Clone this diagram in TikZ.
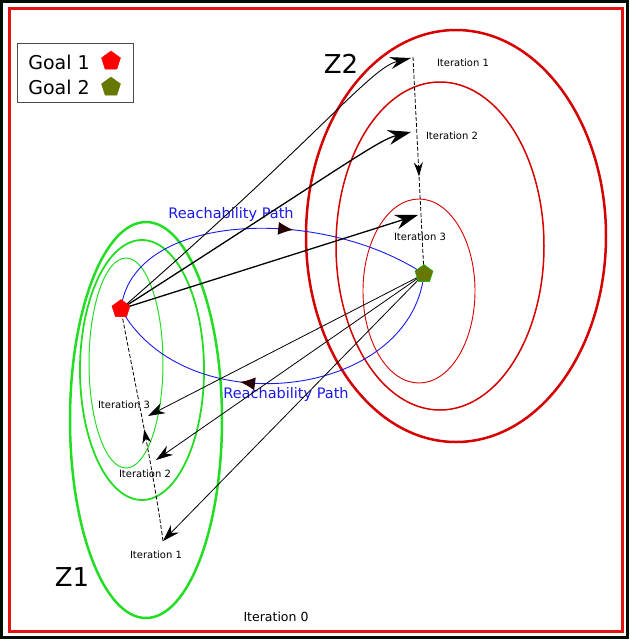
\documentclass[tikz,border=0pt]{standalone}
\usepackage{fontspec}
\setmainfont{DejaVu Sans}
\usetikzlibrary{positioning,shapes.geometric,arrows.meta,decorations.markings}
\definecolor{zonegreen}{RGB}{34,221,34}
\definecolor{zonered}{RGB}{214,0,0}
\definecolor{framered}{RGB}{226,20,20}
\definecolor{goalolive}{RGB}{102,120,0}
\definecolor{pathblue}{RGB}{25,25,235}
\tikzset{
  goal/.style    = {regular polygon, regular polygon sides=5, minimum size=19pt, inner sep=0pt},
  goal-1/.style  = {goal, fill=red, draw=red},
  goal-2/.style  = {goal, fill=goalolive, draw=green!75!black, thin},
  zone-1/.style  = {draw=zonegreen},
  zone-2/.style  = {draw=zonered},
  iter/.style    = {font=\fontsize{10}{12}\selectfont, inner sep=1pt},
  big/.style     = {font=\fontsize{26}{30}\selectfont, inner sep=0pt},
  reach/.style   = {draw=pathblue, line width=0.9pt, postaction={decorate},
                    decoration={markings, mark=at position #1 with {\arrow[black!85!red]{Latex[length=15pt,width=13pt]}}}},
  reach-label/.style = {text=pathblue, font=\fontsize{14.5}{16}\selectfont, inner sep=1pt},
  iter-path/.style   = {draw, line width=0.8pt, dash pattern=on 4pt off 2pt, postaction={decorate},
                    decoration={markings, mark=at position #1 with {\arrow{Stealth[length=14pt,width=9pt]}}}},
  to-z2/.style   = {draw, line width=1.3pt, -{Stealth[length=23pt,width=15pt]}},
  to-z1/.style   = {draw, line width=0.8pt, -{Stealth[length=17pt,width=11pt]}}
}

\begin{document}
\begin{tikzpicture}[x=1pt, y=-1pt]
  \useasboundingbox (0,0) rectangle (630,641);
  % frames
  \draw[black!95!green, line width=2.5pt] (1.5,1.5) rectangle (627.5,637.5);
  \draw[framered, line width=3pt] (9.5,8) rectangle (622.5,631.5);

  % zones
  \draw[zone-1, line width=2.5pt] (146,420) ellipse [x radius=76pt, y radius=198pt];
  \draw[zone-1, line width=1.8pt] (142,370) ellipse [x radius=62pt, y radius=130pt];
  \draw[zone-1, line width=1pt] (126,363) ellipse [x radius=37pt, y radius=105pt];
  \draw[zone-2, line width=2.5pt] (456,236) ellipse [x radius=150pt, y radius=206pt];
  \draw[zone-2, line width=1.5pt] (440,246) ellipse [x radius=104pt, y radius=164pt];
  \draw[zone-2, line width=0.9pt] (419,291) ellipse [x radius=56pt, y radius=92pt];

  \node[big] (z2) at (341,64) {Z2};
  \node[big] (z1) at (72,577) {Z1};

  \coordinate (g1) at (121,309);
  \coordinate (g2) at (424,274);
  \coordinate (z1-it1) at (163,541);
  \coordinate (z1-it2) at (156,460);
  \coordinate (z1-it3) at (148,416);
  \coordinate (z2-it1) at (411,58);
  \coordinate (z2-it2) at (411,132);
  \coordinate (z2-it3) at (418,215);

  % iterations
  \draw[iter-path=0.48] (z1-it1) .. controls (152,460) and (128,350) .. (g1);
  \draw[iter-path=0.55] (413,57) coordinate (z2-top) -- (g2);

  \node[iter] (z2-lab1) at (463,63) {Iteration 1};
  \node[iter] (z2-lab2) at (452,136) {Iteration 2};
  \node[iter] (z2-lab3) at (420,237) {Iteration 3};
  \node[iter] (z1-lab3) at (124,405) {Iteration 3};
  \node[iter] (z1-lab2) at (145,474) {Iteration 2};
  \node[iter] (z1-lab1) at (156,555) {Iteration 1};
  \node[iter, font=\fontsize{12.5}{14}\selectfont] (z0-lab) at (276,617) {Iteration 0};

  % reachability
  \path[reach=0.6] (g1) .. controls (132,212) and (320,205) .. (g2);
  \path[reach=0.62] (g2) .. controls (410,400) and (185,425) .. (g1);
  \node[reach-label] (reach-up) at (231,214) {Reachability Path};
  \node[reach-label] (reach-down) at (286,394) {Reachability Path};

  % goal 1 to zone 2
  \draw[to-z2, line width=0.9pt, -{Stealth[length=21pt,width=12pt]}] (g1) .. controls (321,135) and (370,68) .. (z2-it1);
  \draw[to-z2] (g1) .. controls (341,168) and (378,140) .. (z2-it2);
  \draw[to-z2] (g1) -- (z2-it3);

  % goal 2 to zone 1
  \draw[to-z1] (g2) -- (z1-it3);
  \draw[to-z1] (g2) -- (z1-it2);
  \draw[to-z1] (g2) -- (z1-it1);

  \node[goal-1] (goal1) at (g1) {};
  \node[goal-2] (goal2) at (g2) {};

  % legend
  \node[draw=black!70, line width=0.8pt, minimum width=116pt, minimum height=59pt, inner sep=0pt] (legend) at (75,72.5) {};
  \node[font=\fontsize{19}{22}\selectfont, inner sep=0pt] (leg-txt1) at (59,62) {Goal 1};
  \node[font=\fontsize{19}{22}\selectfont, inner sep=0pt] (leg-txt2) at (59,87) {Goal 2};
  \node[goal-1, minimum size=20pt] (leg-goal1) at (111,61) {};
  \node[goal-2, draw=goalolive, minimum size=20pt] (leg-goal2) at (111,87) {};
\end{tikzpicture}
\end{document}
